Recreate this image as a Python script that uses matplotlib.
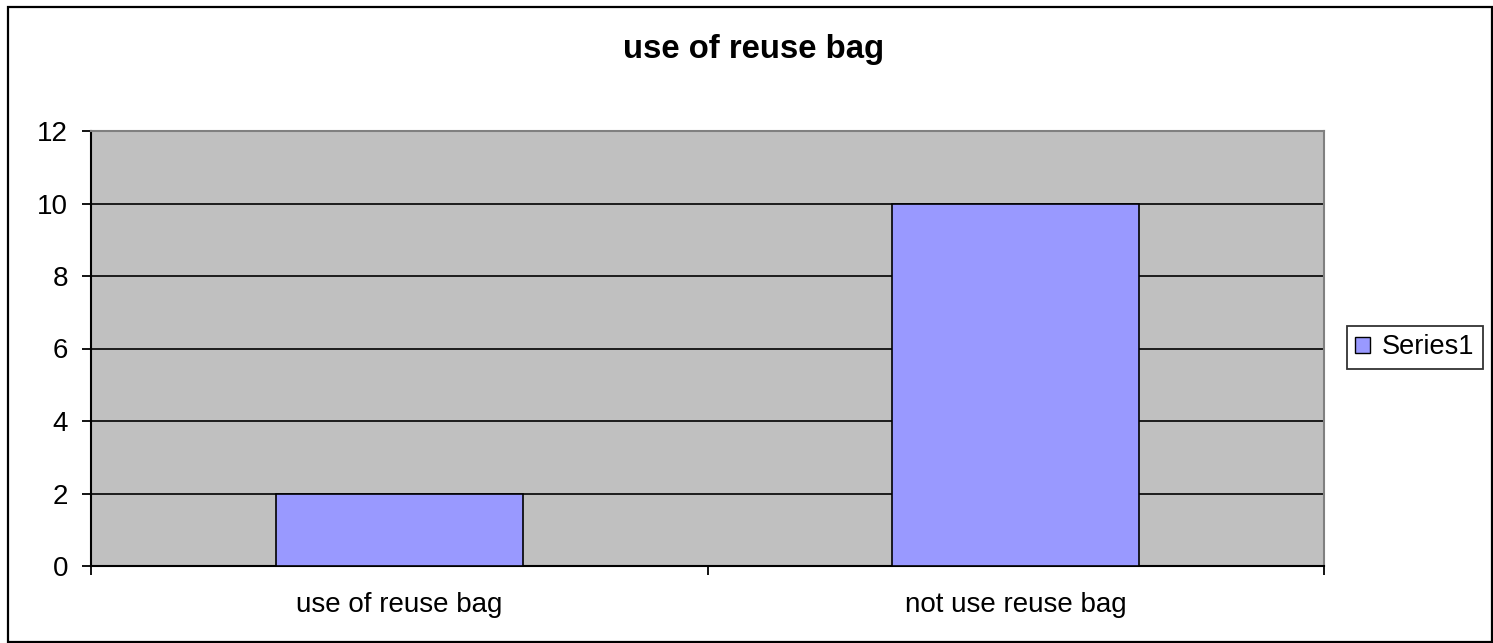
import matplotlib
matplotlib.use("Agg")
import matplotlib.pyplot as plt
from matplotlib.patches import Rectangle
import numpy as np

categories = ["use of reuse bag", "not use reuse bag"]
values = [2, 10]
series_name = "Series1"
title = "use of reuse bag"
yticks = [0, 2, 4, 6, 8, 10, 12]

plt.rcParams['font.family'] = ['Liberation Sans', 'DejaVu Sans']

W, H = 1493, 643
fig = plt.figure(figsize=(W / 100, H / 100), dpi=100)

# outer chart frame
fig.patches.append(Rectangle((8 / W, 1.5 / H), (1491.5 - 8) / W, (636 - 1.5) / H,
                             transform=fig.transFigure, fill=False,
                             edgecolor='black', linewidth=1.6))

left, right, top, bottom = 91, 1324, 131, 566
ax = fig.add_axes([left / W, 1 - bottom / H, (right - left) / W, (bottom - top) / H])
ax.set_facecolor('#C0C0C0')

x = np.arange(len(categories))
ax.bar(x, values, width=0.4, color='#9999FF', edgecolor='black', linewidth=1.2,
       label=series_name, zorder=3)

ax.set_xlim(-0.5, len(categories) - 0.5)
ax.set_ylim(0, 12)
ax.set_yticks(yticks)
ax.yaxis.grid(True, color='black', linewidth=1.2, zorder=1)
ax.set_axisbelow(True)

# category boundaries as major ticks, labels centered on minor ticks
ax.set_xticks(np.arange(len(categories) + 1) - 0.5)
ax.set_xticklabels([])
ax.set_xticks(x, minor=True)
ax.set_xticklabels(categories, minor=True)
ax.tick_params(axis='x', which='minor', length=0, pad=19, labelsize=20)
ax.tick_params(axis='x', which='major', length=6.5, width=1.3, direction='out')
ax.tick_params(axis='y', length=6.5, width=1.3, labelsize=20, pad=10)

for s in ['top', 'right']:
    ax.spines[s].set_color('#808080')
    ax.spines[s].set_linewidth(1.5)
for s in ['left', 'bottom']:
    ax.spines[s].set_color('black')
    ax.spines[s].set_linewidth(1.5)

fig.text(754 / W, 1 - 58 / H, title, ha='center', va='baseline',
         fontsize=23.7, fontweight='bold')

leg = ax.legend(loc='center left', bbox_to_anchor=(1347 / W, 1 - 347.5 / H),
                bbox_transform=fig.transFigure, fontsize=19.5, frameon=True,
                fancybox=False, edgecolor='black', handlelength=0.55, handleheight=0.55,
                handletextpad=0.45, borderpad=0.3, borderaxespad=0)
leg.get_frame().set_linewidth(1.3)
for h in leg.legend_handles:
    h.set_linewidth(1.0)

fig.savefig("out.png", dpi=100)
